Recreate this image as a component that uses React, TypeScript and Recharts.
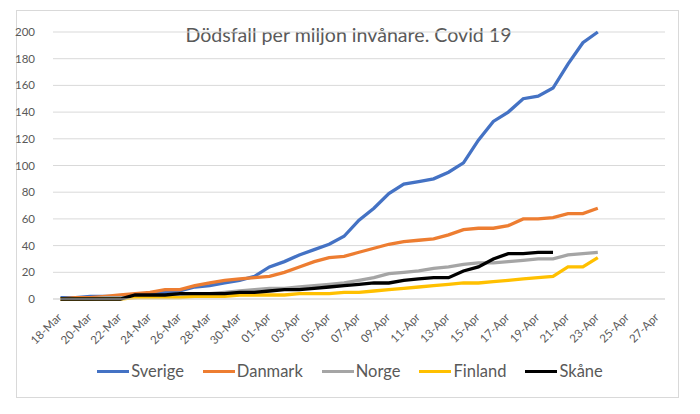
import {
  LineChart,
  Line,
  XAxis,
  YAxis,
  CartesianGrid,
  Legend,
} from 'recharts';

const dates = [
  '18-Mar', '19-Mar', '20-Mar', '21-Mar', '22-Mar', '23-Mar', '24-Mar',
  '25-Mar', '26-Mar', '27-Mar', '28-Mar', '29-Mar', '30-Mar', '31-Mar',
  '01-Apr', '02-Apr', '03-Apr', '04-Apr', '05-Apr', '06-Apr', '07-Apr',
  '08-Apr', '09-Apr', '10-Apr', '11-Apr', '12-Apr', '13-Apr', '14-Apr',
  '15-Apr', '16-Apr', '17-Apr', '18-Apr', '19-Apr', '20-Apr', '21-Apr',
  '22-Apr', '23-Apr', '24-Apr', '25-Apr', '26-Apr', '27-Apr',
];

const sverige = [
  1, 1, 2, 2, 2, 3, 4, 5, 6, 9, 10, 12, 14, 17, 24, 28, 33, 37, 41, 47, 59,
  68, 79, 86, 88, 90, 95, 102, 119, 133, 140, 150, 152, 158, 176, 192, 200,
];
const danmark = [
  0, 1, 1, 2, 3, 4, 5, 7, 7, 10, 12, 14, 15, 16, 17, 20, 24, 28, 31, 32, 35,
  38, 41, 43, 44, 45, 48, 52, 53, 53, 55, 60, 60, 61, 64, 64, 68,
];
const norge = [
  0, 0, 0, 1, 1, 1, 2, 2, 3, 3, 4, 5, 6, 7, 8, 8, 9, 10, 11, 12, 14, 16, 19,
  20, 21, 23, 24, 26, 27, 27, 28, 29, 30, 30, 33, 34, 35,
];
const finland = [
  0, 0, 0, 0, 0, 1, 1, 1, 1, 2, 2, 2, 3, 3, 3, 3, 4, 4, 4, 5, 5, 6, 7, 8, 9,
  10, 11, 12, 12, 13, 14, 15, 16, 17, 24, 24, 31,
];
const skane = [
  0, 0, 0, 0, 0, 3, 3, 3, 4, 4, 4, 4, 5, 5, 6, 7, 7, 8, 9, 10, 11, 12, 12,
  14, 15, 16, 16, 21, 24, 30, 34, 34, 35, 35,
];

const yTicks = [0, 20, 40, 60, 80, 100, 120, 140, 160, 180, 200];

const series = [
  { key: 'Sverige', color: '#4472C4' },
  { key: 'Danmark', color: '#ED7D31' },
  { key: 'Norge', color: '#A5A5A5' },
  { key: 'Finland', color: '#FFC000' },
  { key: 'Skåne', color: '#000000' },
];

const data = dates.map((d, i) => ({
  date: d,
  Sverige: sverige[i] ?? null,
  Danmark: danmark[i] ?? null,
  Norge: norge[i] ?? null,
  Finland: finland[i] ?? null,
  Skåne: skane[i] ?? null,
}));

const FONT = 'Lato, "Liberation Sans", sans-serif';
const TEXT = '#595959';

// date labels are turned 45 degrees, ending at the tick
const DateTick = ({ x, y, payload }: any) => (
  <g transform={`translate(${x + 2},${y + 11})`}>
    <text
      x={0}
      y={0}
      textAnchor="end"
      transform="rotate(-45)"
      fontSize={11.5}
      fontFamily={FONT}
      fill={TEXT}>
      {payload.value}
    </text>
  </g>
);

const LegendContent = () => (
  <div
    style={{
      display: 'flex',
      justifyContent: 'center',
      gap: 19,
      fontFamily: FONT,
      fontSize: 16.5,
      color: TEXT,
      lineHeight: '22px',
    }}>
    {series.map(s => (
      <div key={s.key} style={{ display: 'flex', alignItems: 'center' }}>
        <span
          style={{
            display: 'inline-block',
            width: 32,
            height: 3,
            background: s.color,
            marginRight: 2,
          }}
        />
        <span>{s.key}</span>
      </div>
    ))}
  </div>
);

export default function App() {
  return (
    <div
      style={{
        position: 'absolute',
        left: 0,
        top: 0,
        width: 700,
        height: 414,
        background: '#fff',
      }}>
      <div
        style={{
          position: 'absolute',
          left: 16,
          top: 10,
          width: 661,
          height: 386,
          border: '1px solid #D9D9D9',
        }}
      />
      <div
        style={{
          position: 'absolute',
          left: 0,
          top: 23,
          width: 697,
          textAlign: 'center',
          fontFamily: FONT,
          fontSize: 19.6,
          color: TEXT,
        }}>
        Dödsfall per miljon invånare. Covid 19
      </div>
      <LineChart
        width={700}
        height={414}
        data={data}
        margin={{ top: 32, right: 35, bottom: 14, left: 0 }}
        style={{ position: 'absolute', left: 0, top: 0 }}>
        <CartesianGrid vertical={false} stroke="#D9D9D9" strokeWidth={1} />
        <XAxis
          dataKey="date"
          interval={1}
          height={61}
          padding={{ left: 7.5, right: 7.5 }}
          axisLine={{ stroke: '#D9D9D9' }}
          tickLine={false}
          tick={<DateTick />}
        />
        <YAxis
          width={53}
          domain={[0, 200]}
          ticks={yTicks}
          axisLine={false}
          tickLine={false}
          tickMargin={12}
          tick={{ fontSize: 11.5, fontFamily: FONT, fill: TEXT }}
        />
        <Legend
          verticalAlign="bottom"
          height={40}
          wrapperStyle={{ left: 0, width: 700 }}
          content={<LegendContent />}
        />
        {series.map(s => (
          <Line
            key={s.key}
            dataKey={s.key}
            stroke={s.color}
            strokeWidth={3.3}
            dot={false}
            isAnimationActive={false}
            connectNulls={false}
          />
        ))}
      </LineChart>
    </div>
  );
}
